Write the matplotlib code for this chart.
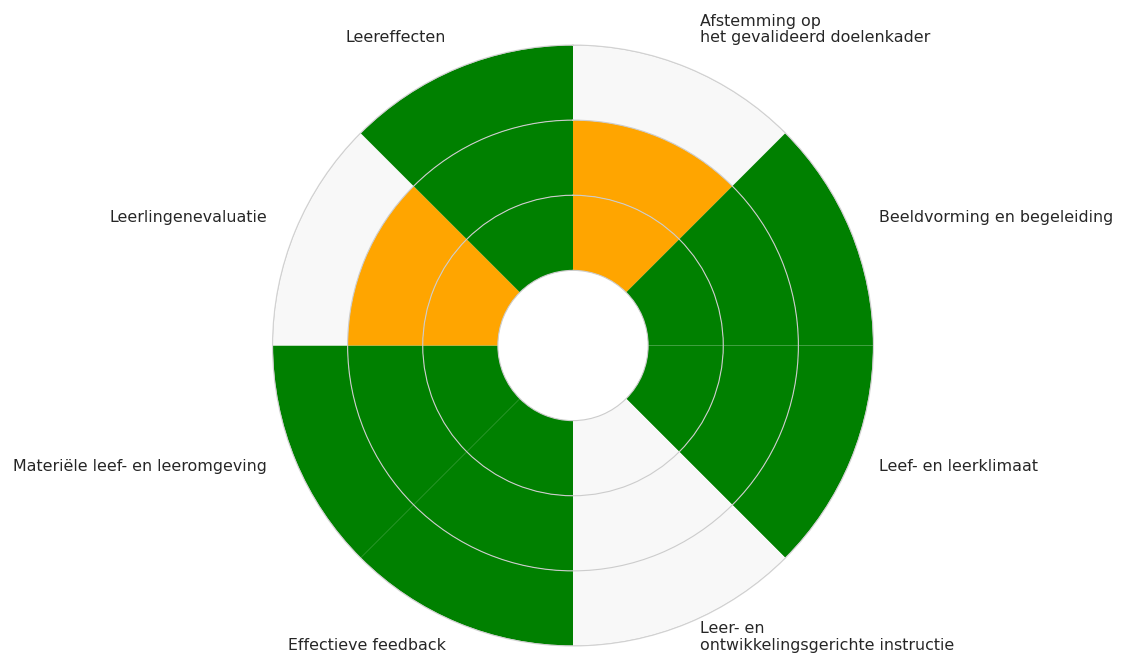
import numpy as np
import matplotlib
matplotlib.use('Agg')
import matplotlib.pyplot as plt
from matplotlib.transforms import offset_copy

# domains, clockwise from the top
categories = [
    "Afstemming op\nhet gevalideerd doelenkader",
    "Beeldvorming en begeleiding",
    "Leef- en leerklimaat",
    "Leer- en\nontwikkelingsgerichte instructie",
    "Effectieve feedback",
    "Materiële leef- en leeromgeving",
    "Leerlingenevaluatie",
    "Leereffecten",
]
# score = number of filled rings (out of 3)
scores = [2, 3, 3, 0, 3, 3, 2, 3]
score_colors = {3: 'green', 2: 'orange', 1: 'red', 0: '#f8f8f8'}
EMPTY = '#f8f8f8'
N_RINGS = 3

W, H, DPI = 1121, 669, 100
fig = plt.figure(figsize=(W / DPI, H / DPI), dpi=DPI)
fig.patch.set_facecolor('white')

cx, cy, rad = 573, 669 - 345.5, 300.5
ax = fig.add_axes([(cx - rad) / W, (cy - rad) / H, 2 * rad / W, 2 * rad / H],
                  projection='polar')
ax.set_theta_zero_location('N')
ax.set_theta_direction(-1)

n = len(categories)
width = 2 * np.pi / n
theta = (np.arange(n) + 0.5) * width

for ring in range(N_RINGS):
    cols = [score_colors[s] if ring < s else EMPTY for s in scores]
    ax.bar(theta, 1, width=width, bottom=ring + 1, color=cols, linewidth=0, zorder=1)

ax.set_ylim(0, N_RINGS + 1)
ax.set_xticks([])
ax.set_yticks([1, 2, 3, 4])
ax.set_yticklabels([])
ax.set_axisbelow(False)
ax.yaxis.grid(True, color='#cccccc', linewidth=0.8)
ax.xaxis.grid(False)
ax.spines['polar'].set_color('#d8d8d8')
ax.spines['polar'].set_linewidth(0.8)

r_lab = 4.41
top_tr = offset_copy(ax.transData, fig=fig, x=0, y=-6, units='dots')
bot_tr = offset_copy(ax.transData, fig=fig, x=0, y=1.5, units='dots')
for t, lab in zip(theta, categories):
    ha = 'left' if np.sin(t) > 0 else 'right'
    if np.cos(t) > 0:
        ax.text(t, r_lab, lab, ha=ha, va='bottom', fontsize=11.4,
                color='#262626', transform=top_tr, linespacing=1.15)
    else:
        ax.text(t, r_lab, lab, ha=ha, va='baseline', fontsize=11.4,
                color='#262626', transform=bot_tr, linespacing=1.15)

fig.savefig('out.png', dpi=DPI)
